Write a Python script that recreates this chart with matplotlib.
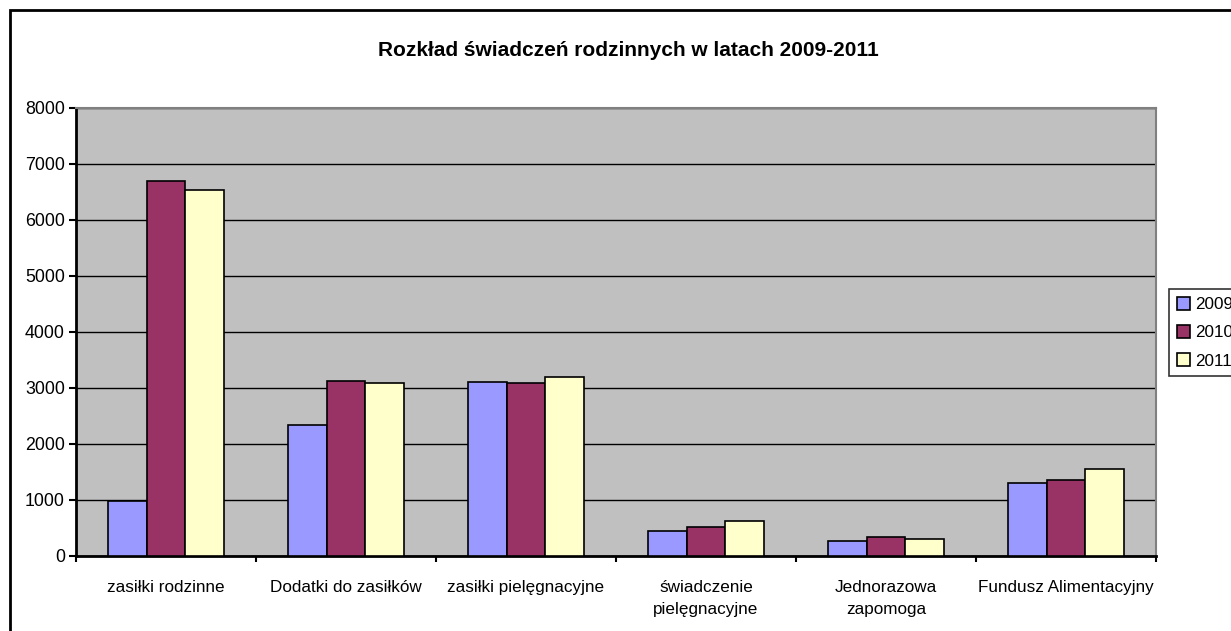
import matplotlib.pyplot as plt
import numpy as np
from matplotlib.patches import Rectangle

plt.rcParams['font.family'] = ['Liberation Sans', 'DejaVu Sans']

# dane
kategorie = ["zasiłki rodzinne", "Dodatki do zasiłków", "zasiłki pielęgnacyjne",
             "świadczenie\npielęgnacyjne", "Jednorazowa\nzapomoga", "Fundusz Alimentacyjny"]
lata = ["2009", "2010", "2011"]
w2009 = [990, 2340, 3100, 450, 275, 1310]
w2010 = [6700, 3125, 3090, 520, 345, 1350]
w2011 = [6530, 3090, 3200, 630, 310, 1560]
kolory = ["#9999FF", "#993366", "#FFFFCC"]

fig = plt.figure(figsize=(12.31, 6.31), dpi=100)
ax = fig.add_axes([76 / 1231, 1 - 556 / 631, 1080 / 1231, 448 / 631])
ax.set_facecolor("#C0C0C0")

x = np.arange(len(kategorie))
szer = 0.216
for i, (wart, kol, rok) in enumerate(zip([w2009, w2010, w2011], kolory, lata)):
    ax.bar(x + (i - 1) * szer, wart, szer, color=kol, edgecolor="black",
           linewidth=1.2, label=rok, zorder=3)

ax.set_xlim(-0.5, len(kategorie) - 0.5)
ax.set_ylim(0, 8000)
ax.set_yticks(range(0, 8001, 1000))
ax.yaxis.grid(True, color="black", linewidth=1, zorder=0)
ax.set_axisbelow(True)

ax.set_xticks(x)
ax.set_xticklabels(kategorie, fontsize=12.3, linespacing=1.65)
ax.set_xticks(np.arange(-0.5, len(kategorie)), minor=True)
ax.tick_params(axis="x", which="major", length=0, pad=17)
ax.tick_params(axis="x", which="minor", length=4, width=1.5, direction="out")
ax.tick_params(axis="y", length=5, width=1.5, labelsize=12.8, pad=3)

for s in ["left", "bottom"]:
    ax.spines[s].set_linewidth(2)
    ax.spines[s].set_color("black")
for s in ["top", "right"]:
    ax.spines[s].set_linewidth(1.5)
    ax.spines[s].set_color("#808080")

fig.text(628 / 1231, 1 - 50 / 631, "Rozkład świadczeń rodzinnych w latach 2009-2011",
         ha="center", va="center", fontsize=15, fontweight="bold")

leg = fig.legend(loc="upper left", bbox_to_anchor=(1169 / 1231, 1 - 289 / 631),
                 fontsize=12.3, frameon=True, fancybox=False, edgecolor="black",
                 handlelength=0.8, handleheight=0.8, handletextpad=0.3,
                 labelspacing=0.75, borderpad=0.45, borderaxespad=0)
leg.get_frame().set_linewidth(1.2)

# ramka wykresu
fig.patches.append(Rectangle((10 / 1231, -0.1), 1.2, 1 - 10 / 631 + 0.1,
                             transform=fig.transFigure, fill=False,
                             edgecolor="black", linewidth=2))

fig.savefig("out.png", dpi=100)
